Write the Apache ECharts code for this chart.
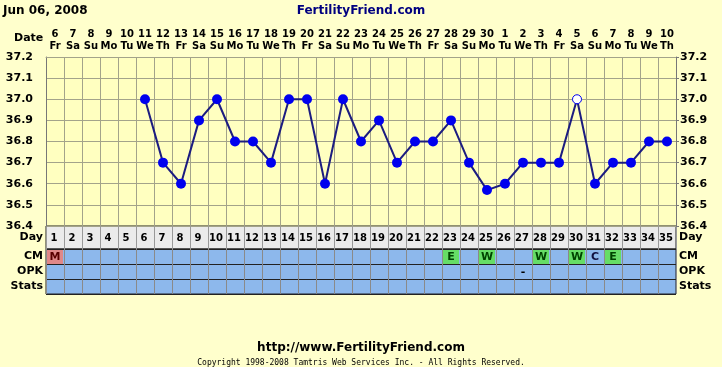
<!DOCTYPE html>
<html><head><meta charset="utf-8">
<script src="https://cdn.jsdelivr.net/npm/echarts@6/dist/echarts.min.js"></script>
<style>html,body{margin:0;padding:0;background:#FFFFCC;}#c{width:722px;height:367px;}</style>
</head><body><div id="c"></div>
<script>
const cycleDays = [1,2,3,4,5,6,7,8,9,10,11,12,13,14,15,16,17,18,19,20,21,22,23,24,25,26,27,28,29,30,31,32,33,34,35];
const dates = ['6','7','8','9','10','11','12','13','14','15','16','17','18','19','20','21','22','23','24','25','26','27','28','29','30','1','2','3','4','5','6','7','8','9','10'];
const weekdays = ['Fr','Sa','Su','Mo','Tu','We','Th','Fr','Sa','Su','Mo','Tu','We','Th','Fr','Sa','Su','Mo','Tu','We','Th','Fr','Sa','Su','Mo','Tu','We','Th','Fr','Sa','Su','Mo','Tu','We','Th'];
const temps = [null,null,null,null,null,37.0,36.7,36.6,36.9,37.0,36.8,36.8,36.7,37.0,37.0,36.6,37.0,36.8,36.9,36.7,36.8,36.8,36.9,36.7,36.57,36.6,36.7,36.7,36.7,37.0,36.6,36.7,36.7,36.8,36.8];
const hollowDays = [30];
const tableRows = ['CM','OPK','Stats'];
const cm  = ['M','','','','','','','','','','','','','','','','','','','','','','E','','W','','','W','','W','C','E','','',''];
const opk = ['','','','','','','','','','','','','','','','','','','','','','','','','','','-','','','','','','','',''];

const FONT = 'DejaVu Sans';
const cellFill = {M:'#E08888', E:'#66DD66', W:'#66DD66'};
const cellText = {M:'#5a0000', E:'#004400', W:'#004400', C:'#101040', '-':'#000'};

const cells = [];
cm.forEach((c,i)=>{ if(c) cells.push([i,0,c]); });
opk.forEach((c,i)=>{ if(c) cells.push([i,1,c]); });

const tempData = temps.map((t,i)=> {
  if (t === null) return null;
  if (hollowDays.indexOf(cycleDays[i]) >= 0) {
    return {value:t, symbolSize:9, itemStyle:{color:'#ffffff', borderColor:'#0000EE', borderWidth:1}};
  }
  return t;
});

const chart = echarts.init(document.getElementById('c'), null, {renderer:'canvas'});
const lbl = {fontFamily:FONT, fontWeight:'bold', fontSize:11, color:'#000'};
const lbl10 = {fontFamily:FONT, fontWeight:'bold', fontSize:10, color:'#000'};
const gridLine = '#A3A38A';
const catX = (gi, split) => ({gridIndex:gi, type:'category', data:cycleDays, boundaryGap:true,
  axisLine:{show:false}, axisTick:{show:false}, axisLabel:{show:false},
  splitLine:{show:true, interval:0, lineStyle:{color:split, width:1}}});

const option = {
  backgroundColor:'#FFFFCC',
  animation:false,
  textStyle:{fontFamily:FONT},
  title:[
    {text:'Jun 06, 2008', left:3, top:5, padding:0, textStyle:{fontFamily:FONT, fontWeight:'bold', fontSize:12, color:'#000'}},
    {text:'FertilityFriend.com', left:'center', top:5, padding:0, textStyle:{fontFamily:FONT, fontWeight:'bold', fontSize:12, color:'#000080'}},
    {text:'http://www.FertilityFriend.com', left:'center', top:342, padding:0, textStyle:{fontFamily:FONT, fontWeight:'bold', fontSize:12, color:'#000'}},
    {text:'Copyright 1998-2008 Tamtris Web Services Inc. - All Rights Reserved.', left:'center', top:359, padding:0, textStyle:{fontFamily:'DejaVu Sans Mono', fontWeight:'normal', fontSize:8, color:'#000'}}
  ],
  graphic:[{type:'text', left:14, top:33, style:{text:'Date', font:'bold 11px "DejaVu Sans"', fill:'#000'}}],
  grid:[
    {left:46, top:57, width:630, height:169, show:true, backgroundColor:'#FFFFC0', borderWidth:0},
    {left:46, top:226, width:630, height:23, show:true, backgroundColor:'#EBEBEB', borderColor:'#222', borderWidth:1},
    {left:46, top:249, width:630, height:45, show:true, backgroundColor:'#8DB8EC', borderColor:'#222', borderWidth:1}
  ],
  xAxis:[
    {gridIndex:0, type:'category', position:'top', data:cycleDays, boundaryGap:true,
     axisLine:{show:true, lineStyle:{color:gridLine}}, axisTick:{show:false},
     axisLabel:Object.assign({}, lbl10, {interval:0, margin:5, lineHeight:12, formatter:(v,i)=>dates[i]+'\n'+weekdays[i]}),
     splitLine:{show:true, interval:0, lineStyle:{color:gridLine, width:1}}},
    catX(1, '#999999'),
    catX(2, '#8a8a8a')
  ],
  yAxis:[
    {gridIndex:0, type:'value', min:36.4, max:37.2, interval:0.1, position:'left',
     axisLine:{show:true, lineStyle:{color:'#777'}}, axisTick:{show:false},
     axisLabel:Object.assign({}, lbl, {margin:13, formatter:v=>v.toFixed(1)}),
     splitLine:{show:true, lineStyle:{color:gridLine, width:1}}},
    {gridIndex:0, type:'value', min:36.4, max:37.2, interval:0.1, position:'right',
     axisLine:{show:true, lineStyle:{color:'#777'}}, axisTick:{show:true, length:3, lineStyle:{color:'#777'}},
     axisLabel:Object.assign({}, lbl, {margin:4, formatter:v=>v.toFixed(1)}),
     splitLine:{show:false}},
    {gridIndex:1, type:'category', data:['Day'], position:'left', axisLine:{show:false}, axisTick:{show:false},
     axisLabel:Object.assign({}, lbl, {margin:3})},
    {gridIndex:1, type:'category', data:['Day'], position:'right', axisLine:{show:false}, axisTick:{show:false},
     axisLabel:Object.assign({}, lbl, {margin:3})},
    {gridIndex:2, type:'category', data:tableRows, inverse:true, position:'left', axisLine:{show:false}, axisTick:{show:false},
     axisLabel:Object.assign({}, lbl, {margin:3}),
     splitLine:{show:true, interval:0, lineStyle:{color:'#222', width:1}}},
    {gridIndex:2, type:'category', data:tableRows, inverse:true, position:'right', axisLine:{show:false}, axisTick:{show:false},
     axisLabel:Object.assign({}, lbl, {margin:3})}
  ],
  series:[
    {type:'line', xAxisIndex:0, yAxisIndex:0, data:tempData, connectNulls:false,
     symbol:'circle', symbolSize:10, lineStyle:{color:'#1C1C80', width:2},
     itemStyle:{color:'#0000EE', borderWidth:0}, z:5},
    {type:'custom', xAxisIndex:1, yAxisIndex:2, data:cycleDays.map((d,i)=>[i,0]),
     renderItem:(params, api)=>{
       const i = api.value(0);
       const p = api.coord([i, 0]);
       return {type:'text', style:{x:p[0]-1, y:p[1]+1, text:String(cycleDays[i]), font:'bold 10px "DejaVu Sans"', fill:'#000', textAlign:'center', textVerticalAlign:'middle'}};
     }},
    {type:'custom', xAxisIndex:2, yAxisIndex:4, data:cells,
     renderItem:(params, api)=>{
       const i = api.value(0), r = api.value(1);
       const code = cells[params.dataIndex][2];
       const p = api.coord([i, r]);
       const s = api.size([1, 1]);
       const children = [];
       if (cellFill[code]) {
         children.push({type:'rect', shape:{x:p[0]-s[0]/2+1, y:p[1]-s[1]/2+1, width:s[0]-2, height:s[1]-1}, style:{fill:cellFill[code]}});
       }
       children.push({type:'text', style:{x:p[0], y:p[1]+1, text:code, font:'bold 11px "DejaVu Sans"', fill:cellText[code], textAlign:'center', textVerticalAlign:'middle'}});
       return {type:'group', children:children};
     }}
  ]
};
chart.setOption(option);
</script></body></html>
